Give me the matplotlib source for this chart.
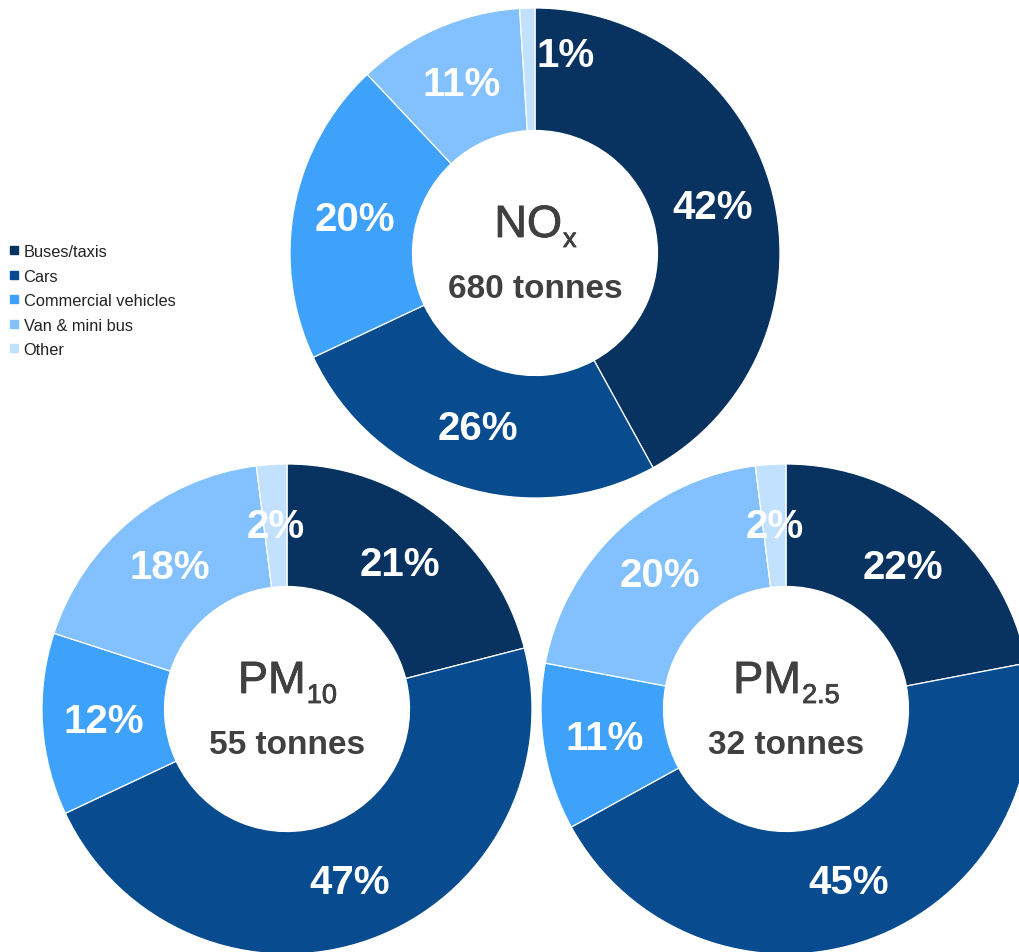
import matplotlib
matplotlib.use("Agg")
import matplotlib.pyplot as plt
import matplotlib.patheffects as pe
from matplotlib.lines import Line2D

# Source categories shared by all three donuts
categories = ["Buses/taxis", "Cars", "Commercial vehicles", "Van & mini bus", "Other"]
colors = ["#08325f", "#084b8e", "#3ea1fa", "#82c1fe", "#c2e1ff"]

# Share of emissions by source (%)
nox_share = [42, 26, 20, 11, 1]
pm10_share = [21, 47, 12, 18, 2]
pm25_share = [22, 45, 11, 20, 2]

pollutant_names = ["NO", "PM", "PM"]
pollutant_subs = ["x", "10", "2.5"]
totals_tonnes = [680, 55, 32]

W, H = 1020, 953
FONT = "Liberation Sans"
TEXT_GREY = "#404040"

fig = plt.figure(figsize=(W / 100, H / 100), dpi=100)
fig.patch.set_facecolor("white")
ax = fig.add_axes([0, 0, 1, 1])

R = 245
centers = [(535, H - 254), (287, H - 710), (786, H - 710)]
series = [nox_share, pm10_share, pm25_share]

pct_texts = []
for vals, c in zip(series, centers):
    wedges, _, autotexts = ax.pie(
        vals, colors=colors, startangle=90, counterclock=False,
        radius=R, center=c,
        wedgeprops=dict(width=R * 0.5, edgecolor="white", linewidth=0.9),
        autopct=lambda p: f"{p:.0f}%", pctdistance=0.75,
        textprops=dict(color="white", fontsize=29, fontweight="bold", family=FONT),
    )
    pct_texts.append(autotexts)

# the tiny NOx "Other" slice gets its label nudged clear of the slice edge
cx, cy = centers[0]
pct_texts[0][-1].set_position((cx + 31, cy + R - 47))

ax.set_xlim(0, W)
ax.set_ylim(0, H)
ax.set_aspect("equal")
ax.axis("off")

# Centre titles: pollutant with subscript, then total tonnage
semi_bold = [pe.withStroke(linewidth=0.6, foreground=TEXT_GREY)]
renderer = fig.canvas.get_renderer()
for (cx, cy), name, sub, tot in zip(centers, pollutant_names, pollutant_subs, totals_tonnes):
    main = ax.text(0, cy + 16, name, fontsize=32.5, color=TEXT_GREY, family=FONT,
                   ha="left", va="baseline", path_effects=semi_bold)
    subt = ax.text(0, cy + 6, sub, fontsize=19.5, color=TEXT_GREY, family=FONT,
                   ha="left", va="baseline", path_effects=semi_bold)
    wm = main.get_window_extent(renderer).width
    ws = subt.get_window_extent(renderer).width
    x0 = cx - (wm + ws) / 2
    main.set_x(x0)
    subt.set_x(x0 + wm + 1)
    ax.text(cx, cy - 44, f"{tot} tonnes", fontsize=24, fontweight="bold",
            color=TEXT_GREY, family=FONT, ha="center", va="baseline")

handles = [Line2D([], [], marker="s", linestyle="none", markersize=5.5,
                  markerfacecolor=col, markeredgecolor=col) for col in colors]
fig.legend(handles, categories, loc="upper left",
           bbox_to_anchor=(8 / W, 1 - 245 / H), frameon=False,
           prop=dict(family=FONT, size=11.8), labelcolor="#222222",
           handlelength=0.7, handletextpad=0.25, labelspacing=0.58,
           borderpad=0, borderaxespad=0)

fig.savefig("out.png", dpi=100, facecolor="white")
